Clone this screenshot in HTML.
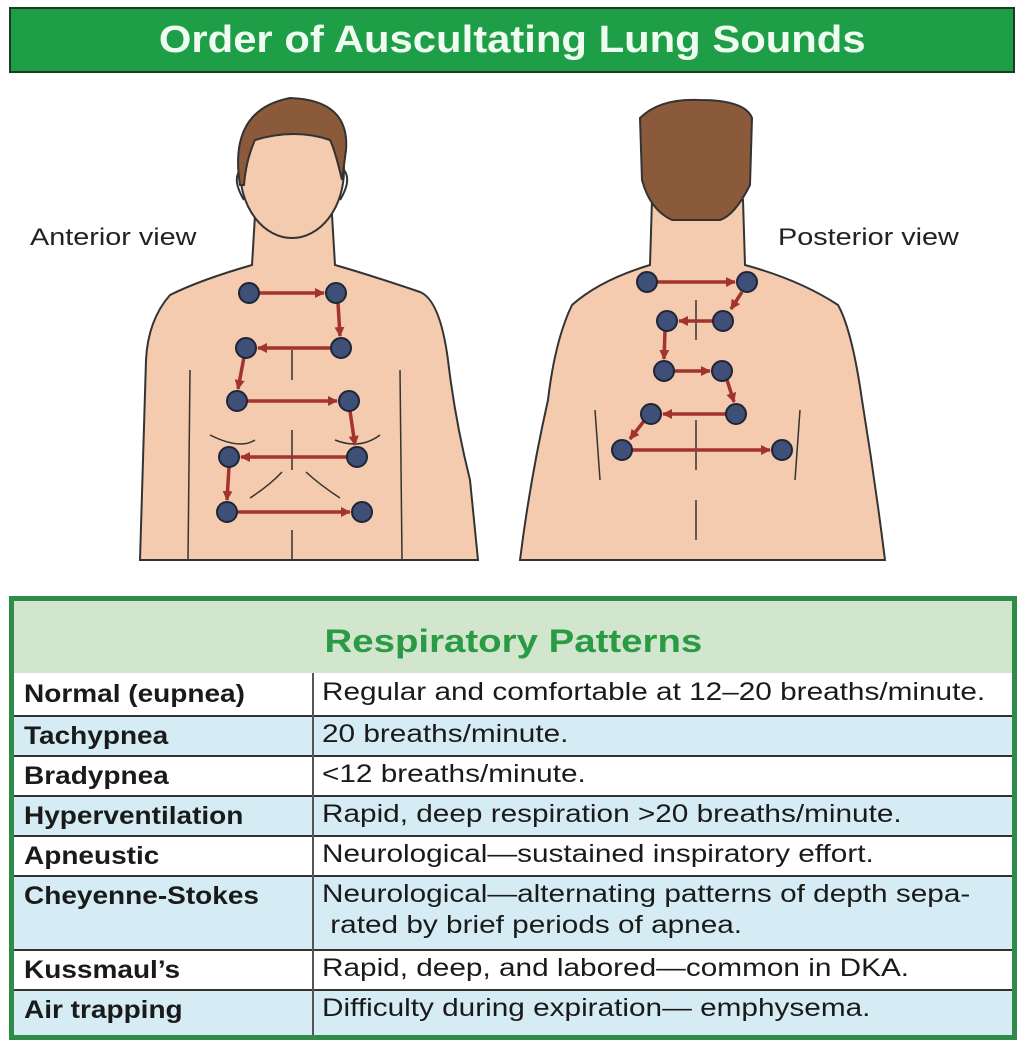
<!DOCTYPE html>
<html><head><meta charset="utf-8"><style>
*{margin:0;padding:0;box-sizing:border-box}
body{width:1030px;height:1047px;background:#fff;position:relative;overflow:hidden;font-family:"Liberation Sans",Arial,sans-serif}
.hdr{position:absolute;left:9px;top:7px;width:1006px;height:66px;background:#1f9e48;border:2px solid #1b3b25;color:#effdf0;font-weight:bold;font-size:38px;text-align:center;line-height:62px}
.hdr span{display:inline-block;transform:scaleX(1.1)}
.tbl{position:absolute;left:9px;top:596px;width:1008px;height:444px;border:5px solid #2e8b48;background:#fff}
.th{position:absolute;left:0;top:0;width:998px;height:72px;background:#d1e6cd;color:#2a9a45;font-weight:bold;font-size:32px;text-align:center;line-height:80px}
.th span{display:inline-block;transform:scaleX(1.2)}
.row{position:absolute;left:0;width:998px;border-top:2px solid #333;font-size:25px;color:#1a1a1a}
.row .a{position:absolute;left:10px;font-weight:bold;transform:scaleX(1.12);transform-origin:left;white-space:nowrap}
.row .b{position:absolute;left:308px;line-height:31px;transform:scaleX(1.19);transform-origin:left;white-space:nowrap}
.blue{background:#d6ecf5}
.div{position:absolute;left:298px;top:72px;width:2px;height:362px;background:#555}
.lbl{position:absolute;font-size:24px;color:#222;transform:scaleX(1.2);transform-origin:left;white-space:nowrap}
</style></head><body>
<div class="hdr"><span>Order of Auscultating Lung Sounds</span></div>
<div class="lbl" style="left:30px;top:224px">Anterior view</div>
<div class="lbl" style="left:778px;top:224px">Posterior view</div>
<svg width="1030" height="590" style="position:absolute;left:0;top:0">
<defs><marker id="ah" markerUnits="userSpaceOnUse" markerWidth="10" markerHeight="10" refX="9" refY="5" orient="auto"><path d="M0,0 L10,5 L0,10 Z" fill="#a3332d"/></marker></defs>
<g stroke="#333" stroke-width="2" fill="#f4cbaf">
<path d="M255,215 L252,265 Q200,280 170,295 Q148,320 146,360 L140,560 L478,560 L470,480 Q455,420 448,360 Q440,300 420,292 Q370,275 335,265 L332,215 Z"/>
<ellipse cx="292" cy="170" rx="52" ry="68"/>
<path d="M240,170 Q232,180 244,200 M344,170 Q352,180 340,200" fill="none"/>
<path d="M240,185 Q228,110 290,98 Q350,100 346,150 L342,180 Q335,150 330,140 Q295,128 255,140 Q246,160 244,185 Z" fill="#8a5a3b"/>
<path d="M190,370 L188,560 M400,370 L402,560 M292,350 L292,380 M292,430 L292,470 M292,530 L292,560 M210,435 Q240,450 255,440 M335,440 Q360,450 380,435 M250,498 Q270,485 282,472 M306,472 Q320,485 340,498" fill="none" stroke-width="1.5"/>
<path d="M652,200 L650,265 Q600,280 572,305 Q555,340 548,400 Q530,480 520,560 L885,560 Q875,480 862,400 Q852,330 838,305 Q800,280 745,265 L743,200 Z"/>
<path d="M642,180 L640,118 Q660,98 700,100 Q745,100 752,118 L750,185 Q735,215 720,220 L672,220 Q650,210 642,180 Z" fill="#8a5a3b"/>
<path d="M696,300 L696,340 M696,420 L696,470 M696,500 L696,540 M595,410 L600,480 M800,410 L795,480" fill="none" stroke-width="1.5"/>
</g>
<g stroke="#a3332d" stroke-width="3.5" fill="none" marker-end="url(#ah)">
<path d="M259,293 L324,293"/><path d="M338,303 L340,336"/><path d="M330,348 L258,348"/>
<path d="M244,357 L238,389"/><path d="M247,401 L337,401"/><path d="M350,411 L355,445"/>
<path d="M347,457 L241,457"/><path d="M229,467 L227,500"/><path d="M237,512 L350,512"/>
<path d="M657,282 L735,282"/><path d="M742,292 L731,309"/><path d="M713,321 L679,321"/>
<path d="M665,331 L664,359"/><path d="M674,371 L710,371"/><path d="M727,380 L734,402"/>
<path d="M726,414 L663,414"/><path d="M644,421 L630,439"/><path d="M632,450 L770,450"/>
</g>
<g fill="#3e4f78" stroke="#1e2535" stroke-width="2">
<circle cx="249" cy="293" r="10"/><circle cx="336" cy="293" r="10"/><circle cx="341" cy="348" r="10"/><circle cx="246" cy="348" r="10"/><circle cx="237" cy="401" r="10"/><circle cx="349" cy="401" r="10"/><circle cx="357" cy="457" r="10"/><circle cx="229" cy="457" r="10"/><circle cx="227" cy="512" r="10"/><circle cx="362" cy="512" r="10"/>
<circle cx="647" cy="282" r="10"/><circle cx="747" cy="282" r="10"/><circle cx="723" cy="321" r="10"/><circle cx="667" cy="321" r="10"/><circle cx="664" cy="371" r="10"/><circle cx="722" cy="371" r="10"/><circle cx="736" cy="414" r="10"/><circle cx="651" cy="414" r="10"/><circle cx="622" cy="450" r="10"/><circle cx="782" cy="450" r="10"/>
</g>
</svg>
<div class="tbl">
<div class="th"><span>Respiratory Patterns</span></div>
<div class="row" style="top:72px;height:42px;border-top:none"><span class="a" style="top:7px">Normal (eupnea)</span><span class="b" style="top:4px">Regular and comfortable at 12–20 breaths/minute.</span></div>
<div class="row blue" style="top:114px;height:40px"><span class="a" style="top:5px">Tachypnea</span><span class="b" style="top:2px">20 breaths/minute.</span></div>
<div class="row" style="top:154px;height:40px"><span class="a" style="top:5px">Bradypnea</span><span class="b" style="top:2px">&lt;12 breaths/minute.</span></div>
<div class="row blue" style="top:194px;height:40px"><span class="a" style="top:5px">Hyperventilation</span><span class="b" style="top:2px">Rapid, deep respiration &gt;20 breaths/minute.</span></div>
<div class="row" style="top:234px;height:40px"><span class="a" style="top:5px">Apneustic</span><span class="b" style="top:2px">Neurological—sustained inspiratory effort.</span></div>
<div class="row blue" style="top:274px;height:74px"><span class="a" style="top:5px">Cheyenne-Stokes</span><span class="b" style="top:2px">Neurological—alternating patterns of depth sepa-<br>&nbsp;rated by brief periods of apnea.</span></div>
<div class="row" style="top:348px;height:40px"><span class="a" style="top:5px">Kussmaul’s</span><span class="b" style="top:2px">Rapid, deep, and labored—common in DKA.</span></div>
<div class="row blue" style="top:388px;height:46px"><span class="a" style="top:5px">Air trapping</span><span class="b" style="top:2px">Difficulty during expiration— emphysema.</span></div>
<div class="div"></div>
</div>
</body></html>
